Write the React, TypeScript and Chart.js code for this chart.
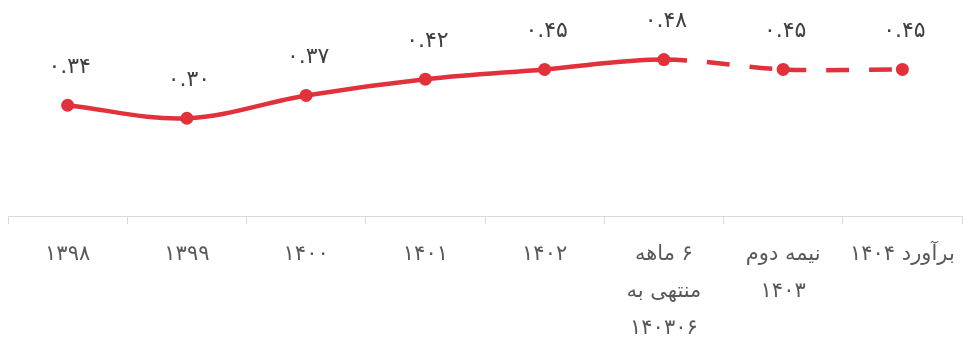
import React, { useEffect, useRef } from "react";
import { Chart, registerables } from "chart.js";

Chart.register(...registerables);

const categories: (string | string[])[] = [
  "۱۳۹۸",
  "۱۳۹۹",
  "۱۴۰۰",
  "۱۴۰۱",
  "۱۴۰۲",
  ["۶ ماهه", "منتهی به", "۱۴۰۳۰۶"],
  ["نیمه دوم", "۱۴۰۳"],
  "برآورد ۱۴۰۴",
];

const values: number[] = [0.34, 0.3, 0.37, 0.42, 0.45, 0.48, 0.45, 0.45];

const dashedFromIndex = 5;

const persianDigits = ["۰", "۱", "۲", "۳", "۴", "۵", "۶", "۷", "۸", "۹"];
const toPersian = (s: string) => s.replace(/[0-9]/g, (d) => persianDigits[Number(d)]);

const RED = "#E1313A";
const FONT = "'DejaVu Sans', sans-serif";

const dataLabelPlugin = {
  id: "dataLabels",
  afterDatasetsDraw(chart: any) {
    const ctx = chart.ctx;
    const meta = chart.getDatasetMeta(0);
    ctx.save();
    ctx.font = `22px ${FONT}`;
    ctx.fillStyle = "#404040";
    ctx.textAlign = "center";
    ctx.textBaseline = "middle";
    meta.data.forEach((pt: any, i: number) => {
      ctx.fillText(toPersian(values[i].toFixed(2)), pt.x + 2, pt.y - 38);
    });
    ctx.restore();
  },
};

export default function App() {
  const ref = useRef<HTMLCanvasElement>(null);
  useEffect(() => {
    if (!ref.current) return;
    const chart = new Chart(ref.current, {
      type: "line",
      data: {
        labels: categories,
        datasets: [
          {
            data: values,
            borderColor: RED,
            backgroundColor: RED,
            borderWidth: 4.5,
            pointRadius: 6.5,
            pointHoverRadius: 6.5,
            pointBackgroundColor: RED,
            pointBorderWidth: 0,
            tension: 0.35,
            fill: false,
            segment: {
              borderDash: (c: any) => (c.p0DataIndex >= dashedFromIndex ? [23, 20] : undefined),
              borderDashOffset: (c: any) => (c.p0DataIndex % 2 === 0 ? 0 : 43),
            },
          },
        ],
      },
      options: {
        animation: false,
        responsive: true,
        maintainAspectRatio: false,
        layout: { autoPadding: false, padding: { left: 8, right: 2, top: 14, bottom: 0 } },
        plugins: { legend: { display: false }, tooltip: { enabled: false } },
        scales: {
          x: {
            offset: true,
            afterFit: (s: any) => {
              s.height = 122;
              s.paddingLeft = 0;
              s.paddingRight = 0;
            },
            grid: {
              offset: true,
              drawOnChartArea: false,
              drawTicks: true,
              tickLength: 8,
              color: "#D9D9D9",
            },
            border: { display: true, color: "#D9D9D9", width: 1 },
            ticks: {
              autoSkip: false,
              maxRotation: 0,
              minRotation: 0,
              padding: 12,
              color: "#595959",
              font: { family: FONT, size: 21, lineHeight: 1.76 },
            },
          },
          y: {
            display: false,
            min: 0,
            max: 0.62,
          },
        },
      },
      plugins: [dataLabelPlugin],
    });
    return () => chart.destroy();
  }, []);
  return (
    <div style={{ position: "fixed", left: 0, top: 0, width: 964, height: 338, background: "#fff" }}>
      <canvas ref={ref} dir="rtl" />
    </div>
  );
}
